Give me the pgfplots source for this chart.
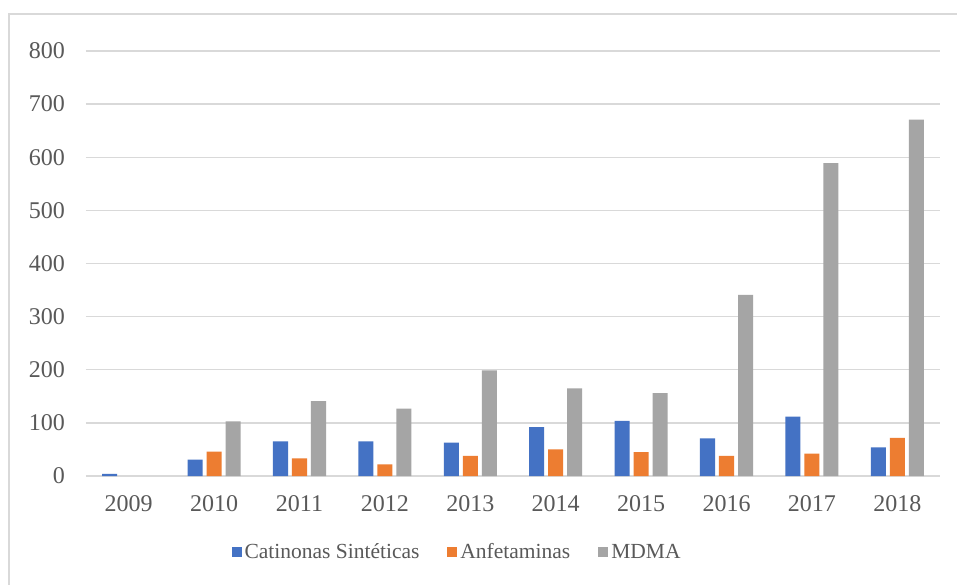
\documentclass[border=0pt]{standalone}
\usepackage{pgfplots}
\pgfplotsset{compat=1.18}
\usepackage{fontspec}
\setmainfont{Liberation Serif}
\definecolor{cblue}{HTML}{4472C4}
\definecolor{corange}{HTML}{ED7D31}
\definecolor{cgray}{HTML}{A5A5A5}
\definecolor{gridc}{HTML}{D9D9D9}
\definecolor{txt}{HTML}{595959}
\begin{document}
\begin{tikzpicture}
\useasboundingbox (-86pt,-108pt) rectangle (871pt,476pt);
\fill[white] (-86pt,-108pt) rectangle (871pt,476pt);
\draw[gridc, line width=1.3pt] (-77pt,462pt) rectangle (900pt,-150pt);
\begin{axis}[
  scale only axis,
  width=854pt, height=425pt,
  xmin=-0.5, xmax=9.5,
  ymin=0, ymax=800,
  ytick={0,100,...,800},
  xtick={0,...,9},
  xticklabels={2009,2010,2011,2012,2013,2014,2015,2016,2017,2018},
  major tick length=0pt,
  axis line style={draw=none},
  ymajorgrids,
  grid style={gridc, line width=1.3pt},
  tick label style={font=\fontsize{24}{28}\selectfont, text=txt},
  /pgf/number format/assume math mode=true,
  yticklabel style={inner sep=0pt, xshift=-21pt},
  xticklabel style={inner sep=0pt, yshift=-19pt},
  bar width=0.176,
  legend style={at={(0.4345,-0.179)}, anchor=center, draw=none, fill=none,
    font=\fontsize{21.5}{25}\selectfont, text=txt,
    legend columns=3, /tikz/every even column/.append style={column sep=26pt},
    /tikz/every odd column/.append style={column sep=1pt}},
  legend cell align=left,
  legend image code/.code={\fill[#1] (0pt,-5pt) rectangle (10pt,5pt);},
]
\addplot[ybar, fill=cblue, draw=none, bar shift=-0.2225] coordinates {
(0,4) (1,31) (2,65) (3,65) (4,63) (5,92) (6,104) (7,71) (8,112) (9,54)};
\addlegendentry{Catinonas Sintéticas}
\addplot[ybar, fill=corange, draw=none, bar shift=0] coordinates {
(1,46) (2,33) (3,22) (4,38) (5,50) (6,45) (7,38) (8,42) (9,72)};
\addlegendentry{Anfetaminas}
\addplot[ybar, fill=cgray, draw=none, bar shift=0.2225] coordinates {
(1,103) (2,141) (3,127) (4,199) (5,165) (6,156) (7,341) (8,589) (9,671)};
\addlegendentry{MDMA}
\end{axis}
\end{tikzpicture}
\end{document}
